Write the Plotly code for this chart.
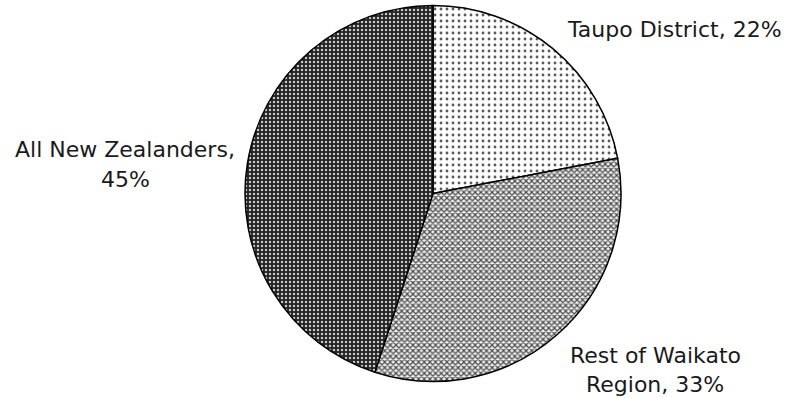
import plotly.graph_objects as go

categories = ["Taupo District", "Rest of Waikato Region", "All New Zealanders"]
values = [22, 33, 45]
label_texts = ["Taupo District, 22%", "Rest of Waikato\nRegion, 33%", "All New Zealanders,\n45%"]

W, H = 787, 398
cx, cy, r = 433, 193.5, 188

fig = go.Figure(go.Pie(
    values=values,
    labels=categories,
    sort=False,
    direction="clockwise",
    rotation=0,
    textinfo="none",
    hoverinfo="label+percent",
    showlegend=False,
    domain=dict(x=[(cx - r) / W, (cx + r) / W], y=[(H - cy - r) / H, (H - cy + r) / H]),
    marker=dict(
        colors=["white", "white", "#222222"],
        line=dict(color="black", width=1.5),
        pattern=dict(
            shape=[".", "x", "."],
            fgcolor=["#5a5a5a", "#4a4a4a", "#c8c8c8"],
            bgcolor=["white", "#eeeeee", "#222222"],
            size=[6, 4, 4],
            solidity=[0.18, 0.5, 0.3],
        ),
    ),
))

# label line positions (pixel centers) per slice
line_pos = [
    [(674, 30)],
    [(655, 355), (655, 384)],
    [(125, 149), (125, 180)],
]
annotations = []
for txt, poss in zip(label_texts, line_pos):
    for line, (px, py) in zip(txt.split("\n"), poss):
        annotations.append(dict(
            text=line, x=px / W, y=(H - py) / H, xref="paper", yref="paper",
            xanchor="center", yanchor="middle", showarrow=False,
            font=dict(family="DejaVu Sans", size=22, color="#1a1a1a"),
        ))

fig.update_layout(
    width=W, height=H,
    margin=dict(l=0, r=0, t=0, b=0),
    paper_bgcolor="white", plot_bgcolor="white",
    annotations=annotations,
)
fig.write_html("out.html")
